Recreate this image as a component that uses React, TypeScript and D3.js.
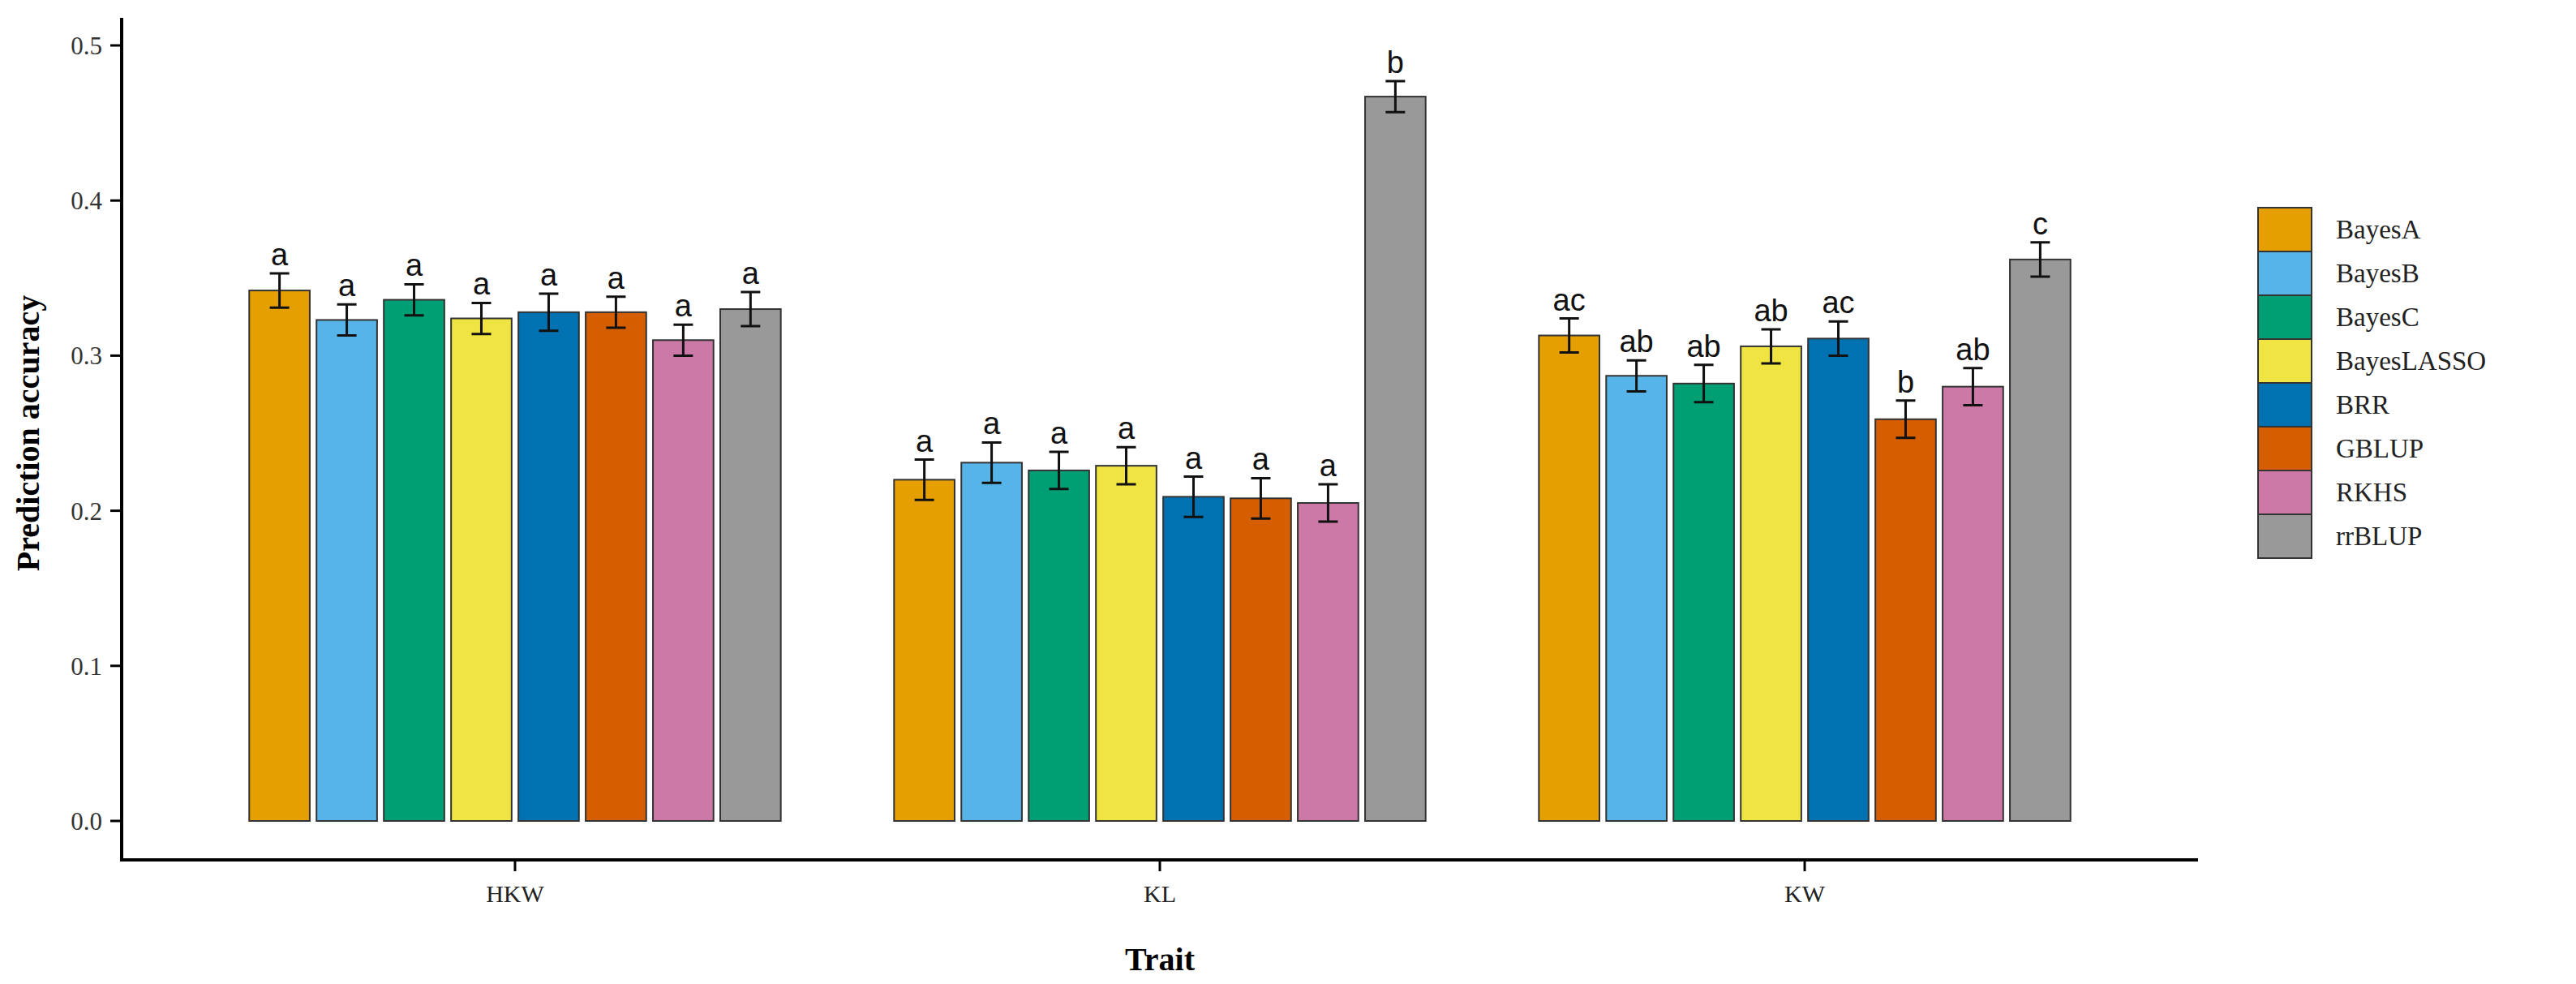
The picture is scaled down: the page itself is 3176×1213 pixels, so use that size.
import * as React from 'react'
import * as d3 from 'd3'

const traits = ['HKW', 'KL', 'KW']
const methods = ['BayesA', 'BayesB', 'BayesC', 'BayesLASSO', 'BRR', 'GBLUP', 'RKHS', 'rrBLUP']
const colors = ['#E69F00', '#56B4E9', '#009E73', '#F0E442', '#0072B2', '#D55E00', '#CC79A7', '#999999']
const means = [
  [0.342, 0.323, 0.336, 0.324, 0.328, 0.328, 0.310, 0.330],
  [0.220, 0.231, 0.226, 0.229, 0.209, 0.208, 0.205, 0.467],
  [0.313, 0.287, 0.282, 0.306, 0.311, 0.259, 0.280, 0.362],
]
const errs = [
  [0.011, 0.010, 0.010, 0.010, 0.012, 0.010, 0.010, 0.011],
  [0.013, 0.013, 0.012, 0.012, 0.013, 0.013, 0.012, 0.010],
  [0.011, 0.010, 0.012, 0.011, 0.011, 0.012, 0.012, 0.011],
]
const letters = [
  ['a', 'a', 'a', 'a', 'a', 'a', 'a', 'a'],
  ['a', 'a', 'a', 'a', 'a', 'a', 'a', 'b'],
  ['ac', 'ab', 'ab', 'ab', 'ac', 'b', 'ab', 'c'],
]
const yTicks = [0, 0.1, 0.2, 0.3, 0.4, 0.5]

const W = 3176, H = 1213
const axisX = 150, axisRight = 2710, axisBottom = 1060, axisTop = 22

export default function App() {
  const y = d3.scaleLinear().domain([0, 0.5]).range([1012, 56])
  const x = d3.scalePoint().domain(traits).range([axisX, axisRight]).padding(0.61)
  const inner = d3.scaleBand().domain(methods).range([-336, 336]).padding(0.1)
  const serif = 'Liberation Serif, Times New Roman, serif'
  const sans = 'Liberation Sans, Arial, sans-serif'

  return (
    <svg width={W} height={H} style={{ position: 'absolute', left: 0, top: 0, background: '#fff' }}>
      {traits.map((t, ti) => (
        <g key={t} transform={`translate(${x(t)},0)`}>
          {methods.map((m, mi) => {
            const v = means[ti][mi], e = errs[ti][mi]
            const bx = inner(m)!, bw = inner.bandwidth(), cx = bx + bw / 2
            return (
              <g key={m}>
                <rect x={bx} y={y(v)} width={bw} height={y(0) - y(v)} fill={colors[mi]} stroke="#333" strokeWidth={2} />
                <path d={`M${cx},${y(v - e)}V${y(v + e)}M${cx - 12},${y(v - e)}H${cx + 12}M${cx - 12},${y(v + e)}H${cx + 12}`}
                  stroke="#111" strokeWidth={3} fill="none" />
                <text x={cx} y={y(v + e) - 10} textAnchor="middle" fontFamily={sans} fontSize={38} fill="#111">{letters[ti][mi]}</text>
              </g>
            )
          })}
          <line x1={0} x2={0} y1={axisBottom} y2={axisBottom + 14} stroke="#000" strokeWidth={3} />
          <text x={0} y={axisBottom + 52} textAnchor="middle" fontFamily={serif} fontSize={30} fill="#222">{t}</text>
        </g>
      ))}
      <path d={`M${axisX},${axisTop}V${axisBottom}H${axisRight}`} stroke="#000" strokeWidth={4} fill="none" />
      {yTicks.map(t => (
        <g key={t}>
          <line x1={axisX - 14} x2={axisX} y1={y(t)} y2={y(t)} stroke="#000" strokeWidth={3} />
          <text x={axisX - 24} y={y(t) + 11} textAnchor="end" fontFamily={serif} fontSize={31} fill="#333">{t.toFixed(1)}</text>
        </g>
      ))}
      <text transform={`translate(48,${y(0.25)}) rotate(-90)`} textAnchor="middle" fontFamily={serif} fontWeight="bold" fontSize={40} fill="#000">Prediction accuracy</text>
      <text x={(axisX + axisRight) / 2} y={1196} textAnchor="middle" fontFamily={serif} fontWeight="bold" fontSize={40} fill="#000">Trait</text>
      {methods.map((m, i) => (
        <g key={m} transform={`translate(2784,${256 + i * 54})`}>
          <rect width={66} height={54} fill={colors[i]} stroke="#333" strokeWidth={2} />
          <text x={96} y={38} fontFamily={serif} fontSize={33} fill="#222">{m}</text>
        </g>
      ))}
    </svg>
  )
}
